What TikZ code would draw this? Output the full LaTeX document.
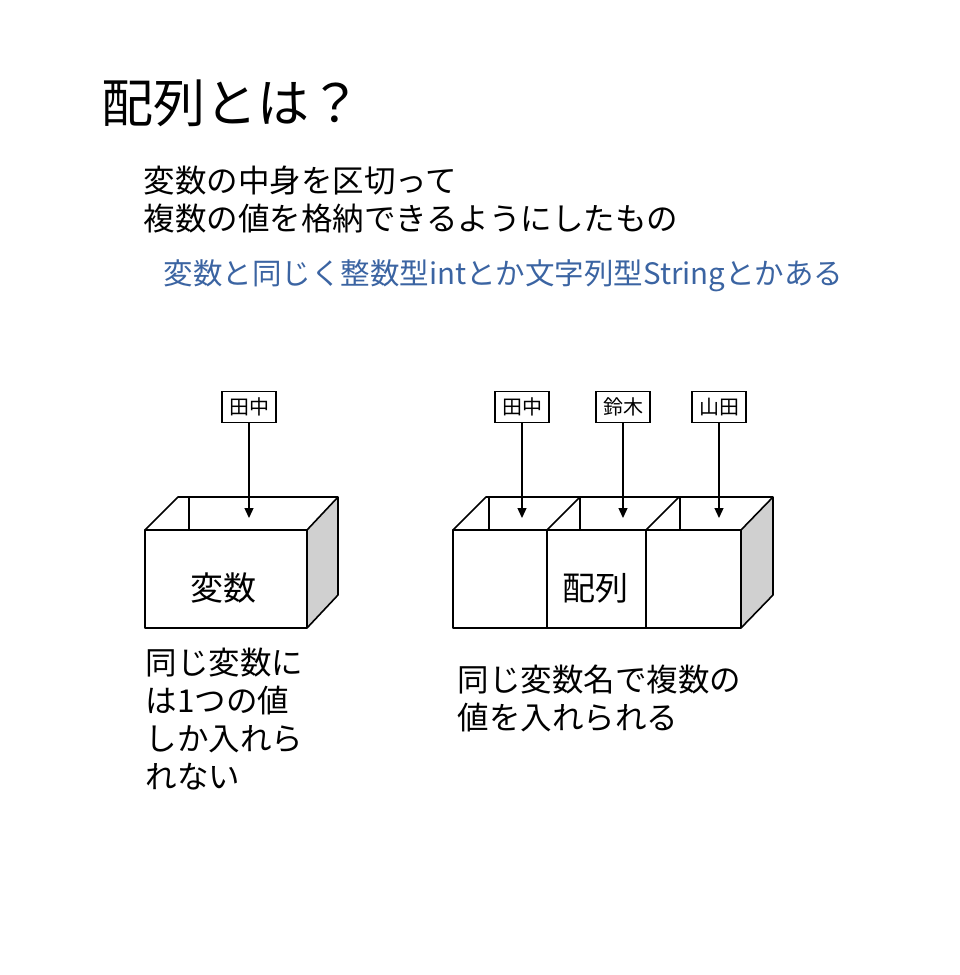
\documentclass[tikz,border=0pt]{standalone}
\usepackage{fontspec}
\setmainfont{Noto Sans CJK JP}
\usetikzlibrary{arrows.meta}
\definecolor{noteBlue}{HTML}{3B64A2}
\definecolor{sideGray}{HTML}{D0D0D0}
\tikzset{
  boxLine/.style={draw, line width=1.6pt, line join=round},
  nameTag/.style={draw, line width=1.2pt, inner sep=2pt, minimum height=31pt, minimum width=54pt, font=\fontsize{20}{20}\selectfont},
  dropArrow/.style={-{Triangle[length=10pt,width=9pt]}, line width=1.3pt},
  bodyText/.style={anchor=west, align=left, font=\fontsize{31.5}{38}\selectfont}
}
\begin{document}
\begin{tikzpicture}[x=1pt,y=-1pt]
  \useasboundingbox (0,0) rectangle (960,975);

  % headings
  \node[anchor=west, font=\fontsize{52}{52}\selectfont] (title) at (98,103) {配列とは？};
  \node[bodyText] (intro) at (140,200) {変数の中身を区切って\\複数の値を格納できるようにしたもの};
  \node[anchor=west, text=noteBlue, font=\fontsize{29.5}{29.5}\selectfont] (note) at (160,276)
    {変数と同じく整数型intとか文字列型Stringとかある};

  % single variable box
  \fill[sideGray] (307,530) -- (338,497) -- (338,595) -- (307,628) -- cycle;
  \draw[boxLine] (145,530) rectangle (307,628);
  \draw[boxLine] (145,530) -- (178,497) -- (338,497) -- (307,530);
  \draw[boxLine] (338,497) -- (338,595) -- (307,628);
  \draw[boxLine] (189,497) -- (189,530);
  \node[font=\fontsize{33}{33}\selectfont] (var) at (223,588) {変数};

  % array box
  \fill[sideGray] (741,530) -- (773,497) -- (773,595) -- (741,628) -- cycle;
  \draw[boxLine] (453,530) rectangle (741,628);
  \draw[boxLine] (453,530) -- (486,497) -- (773,497) -- (741,530);
  \draw[boxLine] (773,497) -- (773,595) -- (741,628);
  \foreach \x in {547,646} {
    \draw[boxLine] (\x,530) -- (\x,628);
    \draw[boxLine] (\x,530) -- (\x+33,497);
  }
  \foreach \x in {489,580,680} {
    \draw[boxLine] (\x,497) -- (\x,530);
  }
  \node[font=\fontsize{33}{33}\selectfont] (arr) at (595,588) {配列};

  % name tags and arrows
  \node[nameTag] (tagA) at (249,407) {田中};
  \node[nameTag] (tagB) at (522,407) {田中};
  \node[nameTag] (tagC) at (623,407) {鈴木};
  \node[nameTag] (tagD) at (719,407) {山田};
  \coordinate (dropA) at (249,518);
  \coordinate (dropB) at (522,518);
  \coordinate (dropC) at (623,518);
  \coordinate (dropD) at (719,518);
  \foreach \t/\d in {tagA/dropA,tagB/dropB,tagC/dropC,tagD/dropD} {
    \draw[dropArrow] (\t) -- (\d);
  }

  % captions
  \node[bodyText, anchor=north west] (leftCap) at (142,644) {同じ変数に\\は1つの値\\しか入れら\\れない};
  \node[bodyText, anchor=north west] (rightCap) at (454,661) {同じ変数名で複数の\\値を入れられる};
\end{tikzpicture}
\end{document}
